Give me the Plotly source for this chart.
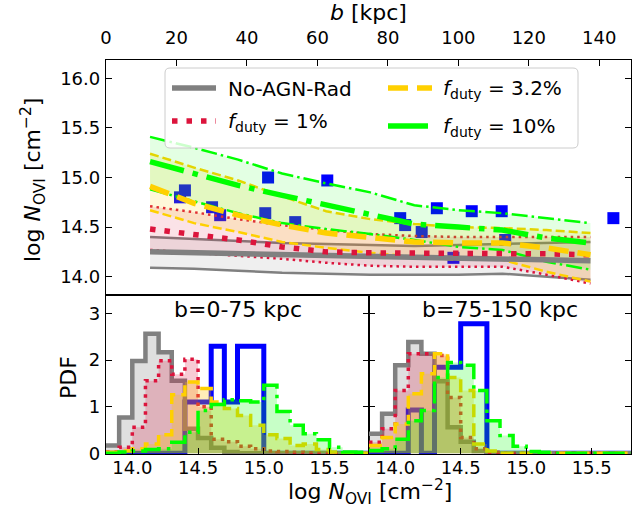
import plotly.graph_objects as go

# ---------------- top panel data ----------------
b_kpc = [12.5, 25, 37.5, 50, 62.5, 75, 87.5, 100, 112.5, 125, 137.5]

noagn_med = [14.25, 14.24, 14.23, 14.22, 14.21, 14.20, 14.19, 14.19, 14.18, 14.17, 14.16]
noagn_hi = [14.40, 14.38, 14.36, 14.34, 14.33, 14.32, 14.31, 14.32, 14.33, 14.34, 14.35]
noagn_lo = [14.09, 14.08, 14.06, 14.04, 14.03, 14.02, 14.02, 14.02, 14.03, 14.00, 13.97]

duty1_med = [14.48, 14.43, 14.37, 14.30, 14.25, 14.24, 14.24, 14.24, 14.24, 14.23, 14.22]
duty1_hi = [14.71, 14.65, 14.58, 14.52, 14.47, 14.43, 14.41, 14.40, 14.40, 14.40, 14.40]
duty1_lo = [14.27, 14.24, 14.21, 14.18, 14.14, 14.11, 14.10, 14.10, 14.10, 14.02, 13.93]

duty32_med = [14.91, 14.74, 14.62, 14.52, 14.44, 14.39, 14.35, 14.34, 14.34, 14.29, 14.22]
duty32_hi = [15.24, 15.10, 14.97, 14.81, 14.66, 14.58, 14.53, 14.50, 14.49, 14.47, 14.44]
duty32_lo = [14.67, 14.54, 14.45, 14.35, 14.29, 14.24, 14.20, 14.17, 14.17, 14.05, 13.95]

duty10_med = [15.16, 15.04, 14.92, 14.82, 14.72, 14.62, 14.53, 14.50, 14.47, 14.39, 14.34]
duty10_hi = [15.41, 15.30, 15.18, 15.04, 14.94, 14.85, 14.72, 14.67, 14.64, 14.59, 14.54]
duty10_lo = [14.88, 14.76, 14.64, 14.54, 14.48, 14.43, 14.37, 14.30, 14.27, 14.15, 14.07]

obs_b = [21.0, 22.4, 30.1, 32.4, 45.2, 46.0, 53.7, 62.8, 83.5, 84.9, 89.6, 93.9,
         98.6, 103.8, 112.3, 113.3, 144.0]
obs_logN = [14.80, 14.87, 14.70, 14.62, 14.64, 15.00, 14.55, 14.97, 14.59, 14.52, 14.45, 14.69,
            14.19, 14.66, 14.66, 14.37, 14.59]

# ---------------- histogram data ----------------
bin_edges = [13.8, 13.9, 14.0, 14.1, 14.2, 14.3, 14.4, 14.5, 14.6, 14.7, 14.8,
             14.9, 15.0, 15.1, 15.2, 15.3, 15.4, 15.5, 15.6, 15.7, 15.8]

# b = 0-75 kpc
obs_pdf_in = [0, 0, 0, 0, 0, 0, 1.1, 1.1, 2.3, 1.1, 2.3, 2.3, 0, 0, 0, 0, 0, 0, 0, 0]
noagn_pdf_in = [0.17, 0.77, 1.98, 2.57, 2.17, 1.56, 0.53, 0.33, 0.12, 0.03, 0, 0, 0, 0, 0, 0, 0, 0, 0, 0]
duty1_pdf_in = [0.03, 0.13, 0.56, 1.56, 1.99, 1.70, 2.02, 1.00, 0.30, 0.25, 0.15, 0.10, 0.05, 0.04, 0.02, 0.01, 0, 0, 0, 0]
duty32_pdf_in = [0.02, 0.05, 0.10, 0.20, 0.40, 1.26, 1.53, 1.39, 1.10, 0.96, 0.81, 0.60, 0.40, 0.32, 0.17, 0.20, 0.08, 0.03, 0, 0]
duty10_pdf_in = [0, 0.03, 0.05, 0.08, 0.10, 0.24, 0.45, 0.92, 1.05, 1.15, 1.13, 1.10, 1.46, 0.90, 0.60, 0.42, 0.29, 0.13, 0.03, 0.02]

# b = 75-150 kpc
obs_pdf_out = [0, 0, 0, 0.93, 0, 1.85, 1.85, 2.78, 2.78, 0, 0, 0, 0, 0, 0, 0, 0, 0, 0, 0]
noagn_pdf_out = [0.42, 0.85, 1.89, 2.39, 2.14, 1.55, 0.56, 0.25, 0.05, 0, 0, 0, 0, 0, 0, 0, 0, 0, 0, 0]
duty1_pdf_out = [0.24, 0.53, 1.35, 2.14, 2.14, 2.10, 1.20, 0.34, 0.10, 0.02, 0, 0, 0, 0, 0, 0, 0, 0, 0, 0]
duty32_pdf_out = [0.17, 0.34, 0.63, 1.28, 1.71, 2.14, 1.63, 1.35, 0.20, 0.05, 0, 0, 0, 0, 0, 0, 0, 0, 0, 0]
duty10_pdf_out = [0.06, 0.10, 0.30, 0.70, 0.92, 1.63, 1.95, 1.89, 1.35, 0.70, 0.38, 0.15, 0.04, 0.02, 0, 0, 0, 0, 0, 0]

panel_titles = ["b=0-75 kpc", "b=75-150 kpc"]

FONT = "DejaVu Sans"
GRAY, CRIM, GOLD, LIME, BLUE = "#808080", "#dc143c", "#ffd000", "#00ff00", "#0000ff"

models = [
    # name, med, hi, lo, color, band rgba, thick dash, thin dash, hist dash, hist fill
    ("noagn", noagn_med, noagn_hi, noagn_lo, GRAY, "rgba(128,128,128,0.13)", "solid", "solid", "solid", "rgba(128,128,128,0.25)"),
    ("duty1", duty1_med, duty1_hi, duty1_lo, CRIM, "rgba(220,20,60,0.12)", "5.5px,9px", "2.5px,4px", "3.5px,5px", "rgba(220,20,60,0.22)"),
    ("duty32", duty32_med, duty32_hi, duty32_lo, GOLD, "rgba(255,208,0,0.15)", "20px,9px", "9px,4px", "13px,6px", "rgba(255,190,0,0.28)"),
    ("duty10", duty10_med, duty10_hi, duty10_lo, LIME, "rgba(0,255,0,0.11)", "35px,9px,5.5px,9px", "16px,4px,2.5px,4px", "22px,6px,3.5px,6px", "rgba(0,255,0,0.22)"),
]

fig = go.Figure()

# observations (squares) drawn first so lines lie above them
fig.add_trace(go.Scatter(x=obs_b, y=obs_logN, mode="markers", xaxis="x", yaxis="y",
                         marker=dict(symbol="square", size=12, color=BLUE), showlegend=False))

# bands + thin bounds
for name, med, hi, lo, col, band, dthick, dthin, dh, hf in models:
    fig.add_trace(go.Scatter(x=b_kpc, y=lo, mode="lines", xaxis="x", yaxis="y",
                             line=dict(color=col, width=2.5, dash=dthin), showlegend=False))
    fig.add_trace(go.Scatter(x=b_kpc, y=hi, mode="lines", xaxis="x", yaxis="y", fill="tonexty",
                             fillcolor=band, line=dict(color=col, width=2.5, dash=dthin), showlegend=False))
# medians
for name, med, hi, lo, col, band, dthick, dthin, dh, hf in models:
    fig.add_trace(go.Scatter(x=b_kpc, y=med, mode="lines", xaxis="x", yaxis="y",
                             line=dict(color=col, width=5.5, dash=dthick), showlegend=False))

# histograms
def step_trace(heights, col, dash, width, fillcol, xa, ya):
    return go.Scatter(x=bin_edges, y=list(heights) + [heights[-1]], mode="lines",
                      line=dict(color=col, width=width, dash=dash, shape="hv"),
                      fill="tozeroy" if fillcol else None, fillcolor=fillcol,
                      xaxis=xa, yaxis=ya, showlegend=False)

hist_sets = [
    ("x2", "y2", obs_pdf_in, noagn_pdf_in, duty1_pdf_in, duty32_pdf_in, duty10_pdf_in),
    ("x3", "y3", obs_pdf_out, noagn_pdf_out, duty1_pdf_out, duty32_pdf_out, duty10_pdf_out),
]
for xa, ya, obs_h, h0, h1, h2, h3 in hist_sets:
    fig.add_trace(step_trace(obs_h, BLUE, "solid", 5, None, xa, ya))
    for (name, med, hi, lo, col, band, dthick, dthin, dh, hf), hh in zip(models, [h0, h1, h2, h3]):
        w = 4.5 if name == "noagn" else 3.5
        fig.add_trace(step_trace(hh, col, dh, w, hf, xa, ya))

# ---------------- layout ----------------
W, H = 644, 510
PL, PR, PT, PB = 106, 631, 60, 454          # plot area in window pixels
L, T, R, B = PL, PT, W - PR, H - PB
pw, ph = PR - PL, PB - PT
split = (PB - 295) / ph
xsplit = (369 - PL) / pw

tickfont = dict(family=FONT, size=18, color="black")
common = dict(showline=True, linecolor="black", linewidth=1.3, ticks="inside", ticklen=6,
              tickcolor="black", tickwidth=1.3, showgrid=False, zeroline=False, tickfont=tickfont)

fig.update_layout(
    width=W, height=H, margin=dict(l=L, r=R, t=T, b=B, autoexpand=False),
    paper_bgcolor="white", plot_bgcolor="white",
    font=dict(family=FONT, size=18, color="black"),
    xaxis=dict(domain=[0, 1], anchor="y", range=[0, 149], side="top", mirror=True,
               tickvals=[0, 20, 40, 60, 80, 100, 120, 140], ticklabelstandoff=8, **common),
    yaxis=dict(domain=[split, 1], anchor="x", range=[13.815, 16.185], mirror="allticks",
               tickvals=[14.0, 14.5, 15.0, 15.5, 16.0], ticktext=["14.0", "14.5", "15.0", "15.5", "16.0"],
               ticklabelstandoff=1, **common),
    xaxis2=dict(domain=[0, xsplit], anchor="y2", range=[13.8, 15.8], mirror=True,
                tickvals=[14.0, 14.5, 15.0, 15.5], ticktext=["14.0", "14.5", "15.0", "15.5"],
                ticklabelstandoff=-3, **common),
    yaxis2=dict(domain=[0, split], anchor="x2", range=[-0.015, 3.4], mirror="allticks",
                tickvals=[0, 1, 2, 3], ticklabelstandoff=1, **common),
    xaxis3=dict(domain=[xsplit, 1], anchor="y3", range=[13.8, 15.8], mirror=True,
                tickvals=[14.0, 14.5, 15.0, 15.5], ticktext=["14.0", "14.5", "15.0", "15.5"],
                ticklabelstandoff=-3, **common),
    yaxis3=dict(domain=[0, split], anchor="x3", range=[-0.015, 3.4], mirror="allticks",
                tickvals=[0, 1, 2, 3], showticklabels=False, **common),
)

def px_x(px):
    return (px - PL) / pw

def px_y(py):
    return (PB - py) / ph

labfont = dict(family=FONT, size=22, color="black")
ann = []
ann.append(dict(text="<i>b</i> [kpc]", x=px_x(368), y=px_y(13), xref="paper", yref="paper",
                showarrow=False, font=labfont, xanchor="center", yanchor="middle"))
ann.append(dict(text="log <i>N</i><sub>OVI</sub> [cm<sup>−2</sup>]", x=px_x(33), y=px_y(180),
                xref="paper", yref="paper", showarrow=False, font=labfont, textangle=-90,
                xanchor="center", yanchor="middle"))
ann.append(dict(text="PDF", x=px_x(68), y=px_y(378), xref="paper", yref="paper", showarrow=False,
                font=labfont, textangle=-90, xanchor="center", yanchor="middle"))
ann.append(dict(text="log <i>N</i><sub>OVI</sub> [cm<sup>−2</sup>]", x=px_x(370), y=px_y(492),
                xref="paper", yref="paper", showarrow=False, font=labfont,
                xanchor="center", yanchor="middle"))
ann.append(dict(text=panel_titles[0], x=0.5, y=px_y(309), xref="x2 domain", yref="paper",
                showarrow=False, font=labfont, xanchor="center", yanchor="middle"))
ann.append(dict(text=panel_titles[1], x=0.5, y=px_y(309), xref="x3 domain", yref="paper",
                showarrow=False, font=labfont, xanchor="center", yanchor="middle"))

# legend (drawn manually, rounded frame)
def rounded_rect(x0p, x1p, y0p, y1p, r=5):
    x0, x1 = px_x(x0p), px_x(x1p)
    ya, yb = px_y(y1p), px_y(y0p)     # ya bottom, yb top (paper)
    rx, ry = r / pw, r / ph
    return (f"M {x0+rx},{ya} L {x1-rx},{ya} Q {x1},{ya} {x1},{ya+ry} "
            f"L {x1},{yb-ry} Q {x1},{yb} {x1-rx},{yb} L {x0+rx},{yb} Q {x0},{yb} {x0},{yb-ry} "
            f"L {x0},{ya+ry} Q {x0},{ya} {x0+rx},{ya} Z")

shapes = []
shapes.append(dict(type="path", xref="paper", yref="paper", path=rounded_rect(165, 578, 68, 148),
                   fillcolor="rgba(255,255,255,0.8)", line=dict(color="#cccccc", width=1)))
legfont = dict(family=FONT, size=20, color="black")
leg_items = [
    ("No-AGN-Rad", GRAY, "solid", 172, 216, 88, 226),
    ("<i>f</i><sub>duty</sub> = 3.2%", GOLD, "20px,9px", 388, 432, 88, 441),
    ("<i>f</i><sub>duty</sub> = 1%", CRIM, "5.5px,9px", 172, 216, 121, 226),
    ("<i>f</i><sub>duty</sub> = 10%", LIME, "solid", 388, 428, 126, 441),
]
for text, col, dash, xa, xb, yy, xt in leg_items:
    shapes.append(dict(type="line", xref="paper", yref="paper", x0=px_x(xa), x1=px_x(xb),
                       y0=px_y(yy), y1=px_y(yy), line=dict(color=col, width=5.5, dash=dash)))
    ann.append(dict(text=text, x=px_x(xt), y=px_y(yy + 1), xref="paper", yref="paper",
                    showarrow=False, font=legfont, xanchor="left", yanchor="middle"))

fig.update_layout(annotations=ann, shapes=shapes)
fig.write_html("out.html", config={"displayModeBar": False},
               post_script="document.body.style.margin='0px';")
